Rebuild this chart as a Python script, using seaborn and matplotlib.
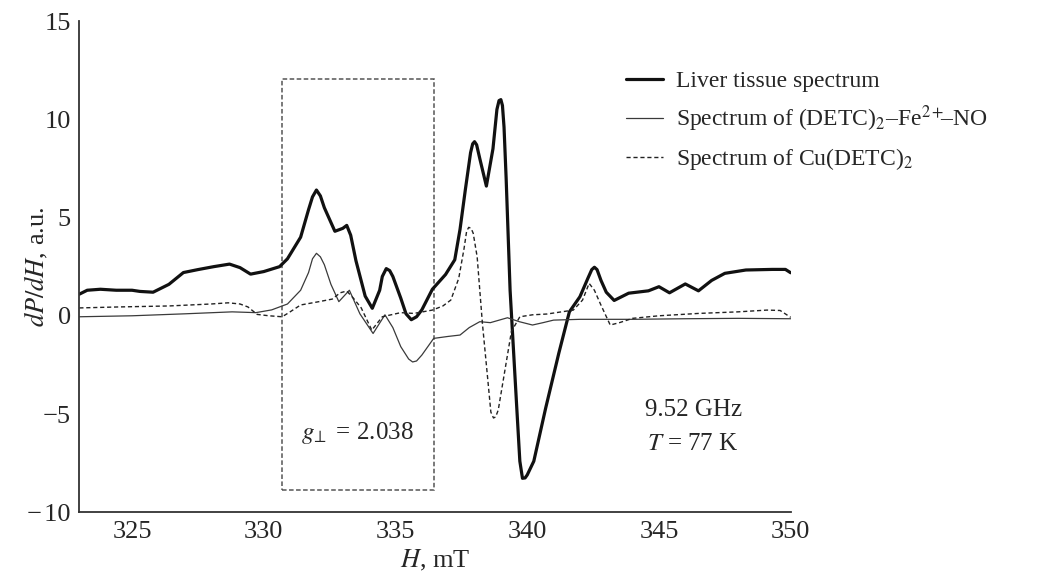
import numpy as np
import pandas as pd
import matplotlib
matplotlib.use("Agg")
import matplotlib.pyplot as plt
import seaborn as sns
from matplotlib.patches import Rectangle

# ---------------- data ----------------
liver_x = [323.0, 323.3, 323.8, 324.4, 325.0, 325.3, 325.8, 326.4, 326.95, 327.5,
           328.1, 328.7, 329.1, 329.5, 330.0, 330.6, 330.9, 331.4, 331.7, 331.85,
           332.0, 332.15, 332.3, 332.7, 333.0, 333.15, 333.3, 333.5, 333.85, 334.12,
           334.4, 334.5, 334.65, 334.78, 334.9, 335.2, 335.4, 335.6, 335.8, 336.0,
           336.4, 336.9, 337.25, 337.45, 337.65, 337.85, 337.93, 338.0, 338.08, 338.2,
           338.45, 338.7, 338.85, 338.93, 339.0, 339.06, 339.12, 339.2, 339.35, 339.6,
           339.72, 339.82, 339.92, 340.0, 340.25, 340.7, 341.2, 341.6, 342.0, 342.3,
           342.45, 342.55, 342.65, 342.8, 343.0, 343.3, 343.85, 344.6, 345.0, 345.4,
           346.0, 346.5, 347.0, 347.5, 348.3, 349.3, 349.8, 350.0]
liver_y = [1.1, 1.3, 1.35, 1.3, 1.3, 1.24, 1.2, 1.6, 2.2, 2.35,
           2.5, 2.63, 2.45, 2.12, 2.25, 2.5, 2.9, 4.0, 5.4, 6.05,
           6.4, 6.1, 5.5, 4.3, 4.45, 4.6, 4.1, 2.8, 1.0, 0.38,
           1.3, 2.0, 2.4, 2.3, 2.0, 0.9, 0.1, -0.2, -0.05, 0.3,
           1.35, 2.1, 2.85, 4.4, 6.4, 8.3, 8.75, 8.86, 8.7, 8.0,
           6.6, 8.5, 10.5, 10.95, 11.0, 10.7, 9.6, 7.0, 1.3, -4.6,
           -7.4, -8.27, -8.25, -8.1, -7.4, -4.7, -1.9, 0.2, 0.97, 1.9,
           2.35, 2.47, 2.35, 1.8, 1.2, 0.78, 1.15, 1.27, 1.48, 1.17,
           1.62, 1.27, 1.8, 2.16, 2.33, 2.36, 2.36, 2.19]

feno_x = [323.0, 325.0, 327.0, 328.8, 329.7, 330.3, 330.9, 331.4, 331.7, 331.85,
          332.0, 332.15, 332.3, 332.55, 332.85, 333.25, 333.65, 334.15, 334.6, 334.9,
          335.2, 335.5, 335.65, 335.8, 336.0, 336.45, 337.0, 337.45, 337.8, 338.2,
          338.6, 339.25, 339.7, 340.2, 340.6, 341.0, 342.0, 344.0, 346.0, 348.0,
          350.0]
feno_y = [-0.05, 0.0, 0.1, 0.2, 0.16, 0.3, 0.6, 1.3, 2.2, 2.9,
          3.18, 3.0, 2.6, 1.6, 0.72, 1.3, 0.1, -0.9, 0.05, -0.6,
          -1.57, -2.2, -2.35, -2.3, -2.0, -1.15, -1.05, -0.98, -0.6, -0.3,
          -0.35, -0.1, -0.3, -0.47, -0.35, -0.22, -0.18, -0.18, -0.15, -0.13,
          -0.15]

cu_x = [323.0, 324.5, 326.4, 328.0, 328.65, 329.1, 329.4, 329.75, 330.2, 330.7,
        331.0, 331.4, 332.1, 332.6, 332.9, 333.15, 333.4, 333.7, 334.1, 334.5,
        335.2, 335.7, 336.4, 336.8, 337.1, 337.4, 337.6, 337.7, 337.78, 337.87,
        337.95, 338.1, 338.3, 338.5, 338.62, 338.72, 338.8, 338.9, 339.1, 339.4,
        339.72, 340.2, 340.75, 341.75, 342.1, 342.35, 342.55, 342.78, 343.15, 343.5,
        344.0, 345.0, 346.5, 348.0, 349.1, 349.6, 350.0]
cu_y = [0.4, 0.45, 0.5, 0.6, 0.66, 0.6, 0.45, 0.07, 0.0, -0.05,
        0.2, 0.55, 0.72, 0.85, 1.17, 1.26, 0.9, 0.4, -0.73, -0.05,
        0.16, 0.12, 0.29, 0.5, 0.8, 1.9, 3.4, 4.3, 4.5, 4.45,
        4.2, 3.0, -0.4, -3.2, -4.9, -5.2, -5.15, -4.8, -3.2, -0.8,
        -0.05, 0.05, 0.09, 0.29, 0.8, 1.65, 1.3, 0.6, -0.47, -0.35,
        -0.13, 0.0, 0.12, 0.2, 0.29, 0.27, -0.08]

series_labels = ["Liver tissue spectrum",
                 "Spectrum of (DETC)$_2$\u2013Fe$^{2+}\\!\\!$\u2013NO",
                 "Spectrum of Cu(DETC)$_2$"]

box_x = [330.68, 336.46]
box_y = [-8.87, 12.03]
box_label = "$g_{\\!\\perp}$ = 2.038"
cond_labels = ["9.52 GHz", "$T$ = 77 K"]

x_ticks = [325, 330, 335, 340, 345, 350]
y_ticks = [-10, -5, 0, 5, 10, 15]

# ---------------- style ----------------
sns.set_style("white")
plt.rcParams["font.family"] = ["Liberation Serif", "DejaVu Serif"]
plt.rcParams["mathtext.fontset"] = "stix"
plt.rcParams["axes.unicode_minus"] = True

fig = plt.figure(figsize=(10.52, 5.76), dpi=100)
ax = fig.add_axes([0.0754, 0.1106, 0.6762, 0.8529])

sns.lineplot(x=liver_x, y=liver_y, ax=ax, color="#111111", lw=2.3,
             sort=False, estimator=None, label=series_labels[0])
sns.lineplot(x=feno_x, y=feno_y, ax=ax, color="#3a3a3a", lw=0.9,
             sort=False, estimator=None, label=series_labels[1])
sns.lineplot(x=cu_x, y=cu_y, ax=ax, color="#222222", lw=1.0,
             sort=False, estimator=None, label=series_labels[2])
ax.lines[2].set_dashes([3, 2])
for ln in ax.lines:
    ln.set_solid_joinstyle("round")
    ln.set_dash_joinstyle("round")

ax.add_patch(Rectangle((box_x[0], box_y[0]), box_x[1] - box_x[0], box_y[1] - box_y[0],
                       fill=False, ec="#555555", lw=1.1, ls=(0, (3, 1.6))))

ax.text(333.55, -5.95, box_label, fontsize=18, ha="center", va="center")
ax.text(346.3, -4.8, cond_labels[0], fontsize=18, ha="center", va="center")
ax.text(346.3, -6.5, cond_labels[1], fontsize=18, ha="center", va="center")

ax.set_xlim(323, 350)
ax.set_ylim(-10, 15)
ax.set_xticks(x_ticks)
ax.set_yticks(y_ticks)
ax.tick_params(direction="in", length=8, width=1.0, color="#333333",
               labelsize=19, pad=6)
ax.set_xticklabels([str(t) for t in x_ticks])
ax.set_yticklabels(["\u2212\u200a10" if t == -10 else ("\u22125" if t == -5 else str(t)) for t in y_ticks])
for s in ["top", "right"]:
    ax.spines[s].set_visible(False)
for s in ["left", "bottom"]:
    ax.spines[s].set_color("#333333")
    ax.spines[s].set_linewidth(1.3)

ax.set_xlabel("$H$, mT", fontsize=19, labelpad=4)
ax.set_ylabel("$dP/dH$, a.u.", fontsize=19)
ax.yaxis.set_label_coords(-0.041, 0.5)

handles, labels = ax.get_legend_handles_labels()
ax.get_legend().remove()
fig.legend(handles, labels, loc="upper left", bbox_to_anchor=(0.595, 0.878),
           frameon=False, fontsize=17, handlelength=1.55, handletextpad=0.55,
           labelspacing=0.5, borderpad=0, borderaxespad=0)

fig.savefig("out.png", dpi=100)
